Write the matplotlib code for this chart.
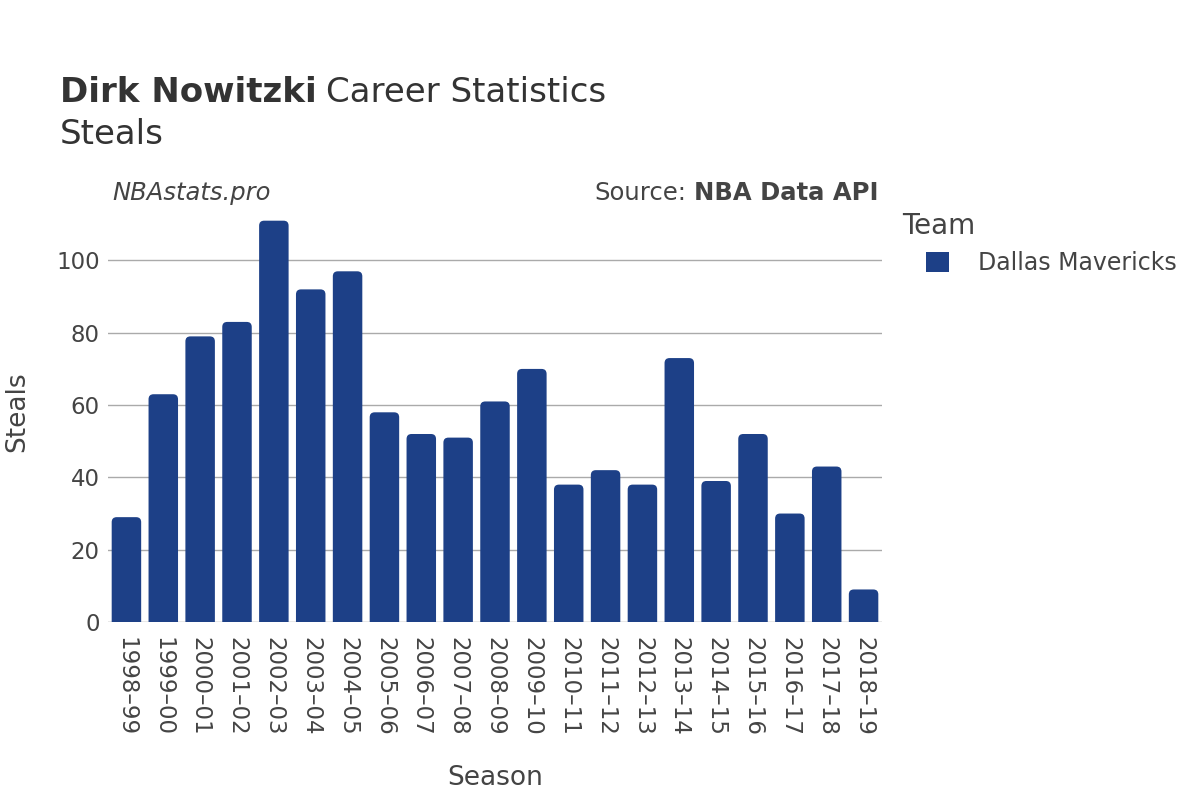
import matplotlib
matplotlib.use('Agg')
import matplotlib.pyplot as plt
from matplotlib.patches import FancyBboxPatch

seasons = ['1998–99', '1999–00', '2000–01', '2001–02', '2002–03', '2003–04', '2004–05',
           '2005–06', '2006–07', '2007–08', '2008–09', '2009–10', '2010–11', '2011–12',
           '2012–13', '2013–14', '2014–15', '2015–16', '2016–17', '2017–18', '2018–19']
steals = [29, 63, 79, 83, 111, 92, 97, 58, 52, 51, 61, 70, 38, 42, 38, 73, 39, 52, 30, 43, 9]
team = 'Dallas Mavericks'

BAR = '#1d4087'
TXT = '#444444'
W, H = 1200, 800

plt.rcParams['font.family'] = ['DejaVu Sans']
fig = plt.figure(figsize=(12, 8), dpi=100)
ax = fig.add_axes([0.09, 0.2225, 0.645, 0.5265])

x = list(range(len(seasons)))
bars = ax.bar(x, steals, width=0.8, color=BAR, label=team)
ax.set_xlim(-0.5, len(seasons) - 0.5)
ax.set_ylim(0, 116.5)

# swap plain bars for ones with rounded tops
px_x = 774 / len(seasons)
px_y = 421 / 116.5
r = 5
for b in bars:
    b.set_visible(False)
    h = b.get_height()
    p = FancyBboxPatch((b.get_x(), -3), b.get_width(), h + 3,
                       boxstyle='round,pad=0,rounding_size=%f' % (r / px_x),
                       mutation_aspect=(px_x / px_y),
                       facecolor=BAR, edgecolor='none', zorder=3)
    ax.add_patch(p)

ax.set_yticks([0, 20, 40, 60, 80, 100])
ax.grid(axis='y', color='#aaaaaa', linewidth=1)
ax.set_axisbelow(True)
ax.axhline(0, color='#e8e8e8', linewidth=2, zorder=2)
for s in ax.spines.values():
    s.set_visible(False)
ax.tick_params(axis='y', length=0, labelsize=16.5, labelcolor=TXT, pad=6)
ax.tick_params(axis='x', length=0, labelsize=16.5, labelcolor=TXT, pad=11)
ax.set_xticks(x)
ax.set_xticklabels(seasons, rotation=-90, va='top')

ax.set_xlabel('Season', fontsize=19, color=TXT)
ax.set_ylabel('Steals', fontsize=19, color=TXT)
ax.xaxis.set_label_coords(0.5, -0.37)
ax.yaxis.set_label_coords(-0.1176, 0.5)
ax.xaxis.label.set_va('center')
ax.yaxis.label.set_va('center')

title = fig.text(0.05, 0.8725, 'Dirk Nowitzki', fontsize=24.5, fontweight='bold', color='#333333', va='baseline')
fig.canvas.draw()
bb = title.get_window_extent()
fig.text(bb.x1 / W + 0.0075, 0.8725, 'Career Statistics', fontsize=24.5, color='#333333', va='baseline')
fig.text(0.05, 0.82, 'Steals', fontsize=24.5, color='#333333', va='baseline')

fig.text(0.094, 0.75, 'NBAstats.pro', fontsize=17.5, style='italic', color=TXT, va='baseline')
src = fig.text(0.732, 0.75, 'NBA Data API', fontsize=17.5, fontweight='bold', color=TXT,
               va='baseline', ha='right')
fig.canvas.draw()
sb = src.get_window_extent()
fig.text(sb.x0 / W - 0.006, 0.75, 'Source:', fontsize=17.5, color=TXT, va='baseline', ha='right')

fig.text(0.7517, 1 - 226 / H, 'Team', fontsize=20, color=TXT, va='center')
leg = fig.legend(handles=[bars.patches[0]], labels=[team], loc='upper left',
                 bbox_to_anchor=(0.772, 1 - 251 / H), frameon=False, fontsize=17,
                 handlelength=0.95, handleheight=0.95, borderpad=0,
                 handletextpad=1.25, borderaxespad=0)
for t in leg.get_texts():
    t.set_color(TXT)
for h in leg.legend_handles:
    h.set_visible(True)
    h.set_facecolor(BAR)

fig.savefig('out.png', dpi=100, facecolor='white')
